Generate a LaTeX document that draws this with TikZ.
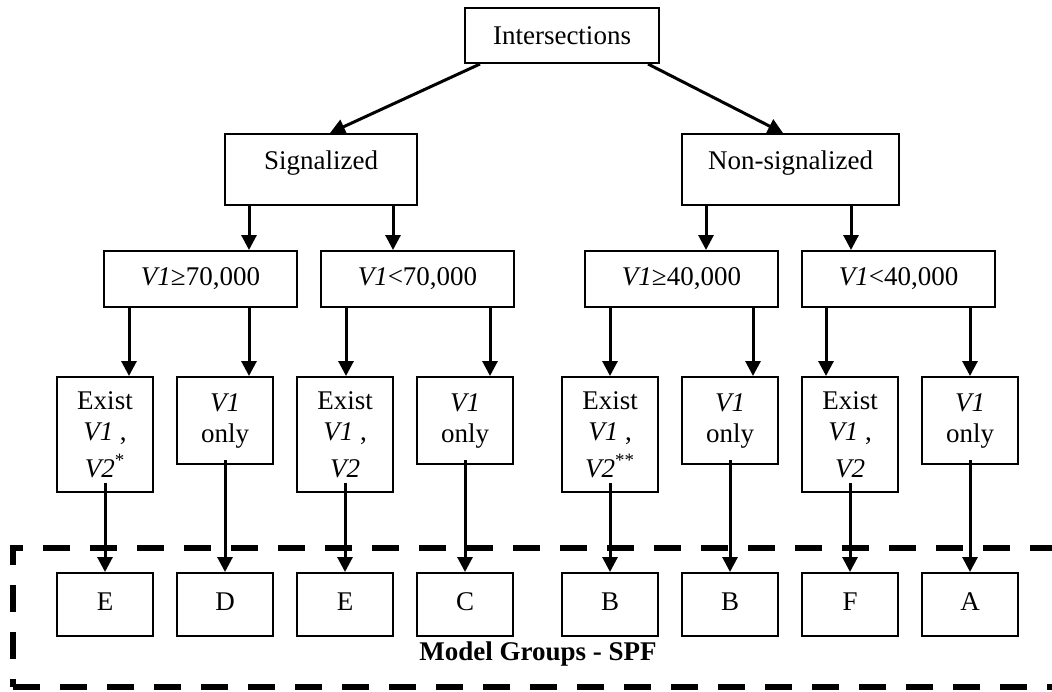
\documentclass[tikz,border=0pt]{standalone}
\usepackage{fontspec}
\setmainfont{Liberation Serif}
\usetikzlibrary{arrows.meta, positioning}

\begin{document}
\begin{tikzpicture}[
    x=0.5pt, y=-0.5pt,
    font=\fontsize{13.5}{15.5}\selectfont,
    block/.style={rectangle, draw, line width=1pt, inner sep=0pt, align=center},
    topbox/.style={block, minimum width=97pt, minimum height=27.5pt},
    typebox/.style={block, minimum height=35.5pt, text height=8pt, text depth=8pt},
    flowbox/.style={block, minimum width=96.5pt, minimum height=28pt},
    leafbox/.style={block, minimum width=48pt},
    groupbox/.style={block, minimum width=48pt, minimum height=31.5pt, text height=9pt, text depth=3.5pt},
    arr/.style={-{Triangle[length=7.5pt, width=7.5pt]}, line width=1.5pt}
]
\useasboundingbox (0,0) rectangle (1052,691);

% Model group frame
\node[draw, line width=3pt, dash pattern=on 13.5pt off 10pt, inner sep=0pt,
      minimum width=543.5pt, minimum height=69.5pt] (frame) at (556.5,617.5) {};
\node[font=\fontsize{13.5}{15.5}\selectfont\bfseries] (mglabel) at (538,654) {Model Groups - SPF};

% Root
\node[topbox] (inter) at (562,35.5) {Intersections};

% Control types
\node[typebox, minimum width=96pt] (sig) at (321,169.5) {Signalized};
\node[typebox, minimum width=108.5pt] (nonsig) at (790.5,169.5) {Non-signalized};

% Volume classes
\node[flowbox] (sighi) at (200.5,279) {\textit{V1}≥70,000};
\node[flowbox] (siglo) at (417.5,279) {\textit{V1}<70,000};
\node[flowbox] (nonhi) at (681.5,279) {\textit{V1}≥40,000};
\node[flowbox] (nonlo) at (898.5,279) {\textit{V1}<40,000};

% Available volumes
\node[leafbox, minimum height=57.5pt] (sighiboth) at (105,434.5) {Exist\\\textit{V1} ,\\[3pt]\textit{V2}\textsuperscript{*}};
\node[leafbox, minimum height=43.5pt] (sighione) at (225,420.5) {\textit{V1}\\only};
\node[leafbox, minimum height=57.5pt] (sigloboth) at (345,434.5) {Exist\\\textit{V1} ,\\[3pt]\textit{V2}};
\node[leafbox, minimum height=43.5pt] (siglone) at (465,420.5) {\textit{V1}\\only};
\node[leafbox, minimum height=57.5pt] (nonhiboth) at (610,434.5) {Exist\\\textit{V1} ,\\[3pt]\textit{V2}\textsuperscript{**}};
\node[leafbox, minimum height=43.5pt] (nonhione) at (730,420.5) {\textit{V1}\\only};
\node[leafbox, minimum height=57.5pt] (nonloboth) at (850,434.5) {Exist\\\textit{V1} ,\\[3pt]\textit{V2}};
\node[leafbox, minimum height=43.5pt] (nonlone) at (970,420.5) {\textit{V1}\\only};

% Model groups
\node[groupbox] (grp1) at (105,604.5) {E};
\node[groupbox] (grp2) at (225,604.5) {D};
\node[groupbox] (grp3) at (345,604.5) {E};
\node[groupbox] (grp4) at (465,604.5) {C};
\node[groupbox] (grp5) at (610,604.5) {B};
\node[groupbox] (grp6) at (730,604.5) {B};
\node[groupbox] (grp7) at (850,604.5) {F};
\node[groupbox] (grp8) at (970,604.5) {A};

% Root to control types
\draw[arr] ([xshift=-41pt]inter.south) -- ([xshift=4.5pt]sig.north);
\draw[arr] ([xshift=43pt]inter.south) -- ([xshift=-3.75pt]nonsig.north);

% Control types to volume classes
\coordinate (s1) at ([xshift=-36pt]sig.south);
\coordinate (s2) at ([xshift=36pt]sig.south);
\coordinate (n1) at ([xshift=-42.25pt]nonsig.south);
\coordinate (n2) at ([xshift=30.25pt]nonsig.south);
\draw[arr] (s1) -- (s1 |- sighi.north);
\draw[arr] (s2) -- (s2 |- siglo.north);
\draw[arr] (n1) -- (n1 |- nonhi.north);
\draw[arr] (n2) -- (n2 |- nonlo.north);

% Volume classes to available volumes
\coordinate (v1) at ([xshift=12pt]sighiboth.north);
\coordinate (v2) at ([xshift=12pt]sighione.north);
\coordinate (v3) at ([xshift=0.5pt]sigloboth.north);
\coordinate (v4) at ([xshift=12.5pt]siglone.north);
\coordinate (v5) at (nonhiboth.north);
\coordinate (v6) at ([xshift=11.5pt]nonhione.north);
\coordinate (v7) at ([xshift=-12pt]nonloboth.north);
\coordinate (v8) at (nonlone.north);
\draw[arr] (v1 |- sighi.south) -- (v1);
\draw[arr] (v2 |- sighi.south) -- (v2);
\draw[arr] (v3 |- siglo.south) -- (v3);
\draw[arr] (v4 |- siglo.south) -- (v4);
\draw[arr] (v5 |- nonhi.south) -- (v5);
\draw[arr] (v6 |- nonhi.south) -- (v6);
\draw[arr] (v7 |- nonlo.south) -- (v7);
\draw[arr] (v8 |- nonlo.south) -- (v8);

% Available volumes to model groups
\draw[arr] ([yshift=5pt]sighiboth.south) -- (grp1.north);
\draw[arr] ([yshift=2.5pt]sighione.south) -- (grp2.north);
\draw[arr] ([yshift=5pt]sigloboth.south) -- (grp3.north);
\draw[arr] ([yshift=2.5pt]siglone.south) -- (grp4.north);
\draw[arr] ([yshift=5pt]nonhiboth.south) -- (grp5.north);
\draw[arr] ([yshift=2.5pt]nonhione.south) -- (grp6.north);
\draw[arr] ([yshift=5pt]nonloboth.south) -- (grp7.north);
\draw[arr] ([yshift=2.5pt]nonlone.south) -- (grp8.north);

\end{tikzpicture}
\end{document}
